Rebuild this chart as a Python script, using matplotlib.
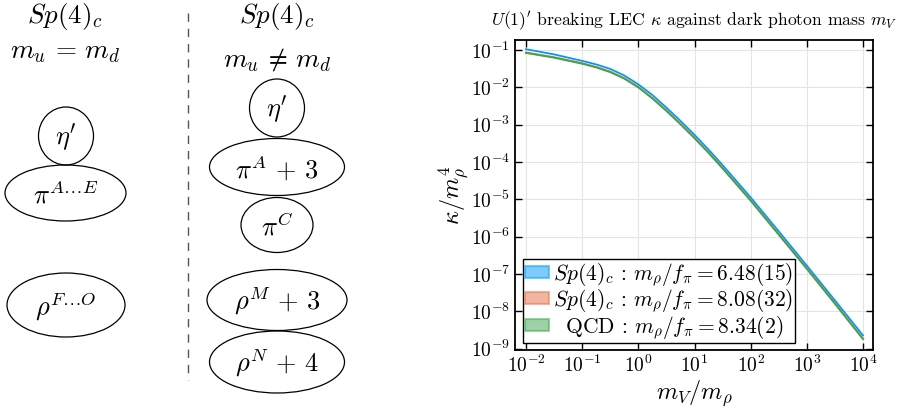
import numpy as np
import matplotlib
matplotlib.use("Agg")
import matplotlib.pyplot as plt
from matplotlib.patches import Ellipse, Patch

plt.rcParams["font.family"] = "serif"
plt.rcParams["font.serif"] = ["cmr10", "DejaVu Serif"]
plt.rcParams["mathtext.fontset"] = "cm"
plt.rcParams["axes.unicode_minus"] = False
plt.rcParams["axes.formatter.use_mathtext"] = True

# values (m_V/m_rho, kappa/m_rho^4)
m_ratio = [1e-2, 3.16e-2, 1e-1, 1.78e-1, 3.16e-1, 5.62e-1, 1.0, 1.78, 3.16, 5.62,
           10.0, 17.8, 31.6, 100.0, 316.0, 1000.0, 3162.0, 10000.0]
kappa_sp_648 = [1.05e-1, 7.6e-2, 5.1e-2, 4.1e-2, 3.1e-2, 2.07e-2, 1.2e-2, 6.2e-3,
                2.85e-3, 1.26e-3, 5.31e-4, 2.14e-4, 8.22e-5, 1.12e-5, 1.38e-6,
                1.66e-7, 1.95e-8, 2.24e-9]
kappa_sp_808 = [8.6e-2, 6.4e-2, 4.42e-2, 3.51e-2, 2.63e-2, 1.76e-2, 1.025e-2, 5.18e-3,
                2.4e-3, 1.06e-3, 4.47e-4, 1.8e-4, 6.91e-5, 9.44e-6, 1.16e-6,
                1.41e-7, 1.64e-8, 1.84e-9]
kappa_qcd = [8.3e-2, 6.2e-2, 4.27e-2, 3.39e-2, 2.54e-2, 1.7e-2, 9.9e-3, 5.0e-3,
             2.32e-3, 1.02e-3, 4.32e-4, 1.74e-4, 6.68e-5, 9.12e-6, 1.12e-6,
             1.36e-7, 1.58e-8, 1.78e-9]
labels = [r"$Sp(4)_c \,:\, m_\rho/f_\pi = 6.48(15)$",
          r"$Sp(4)_c \,:\, m_\rho/f_\pi = 8.08(32)$",
          r"$\ \ \mathrm{QCD} \,:\, m_\rho/f_\pi = 8.34(2)$"]
colors = ["#009afa", "#e36f47", "#3ea44e"]

# diagram: column headers and states
headers_left = [r"$Sp(4)_c$", r"$m_u \,=\, m_d$"]
headers_right = [r"$Sp(4)_c$", r"$m_u \,\neq\, m_d$"]
states_left = [r"$\eta'$", r"$\pi^{A\ldots E}$", r"$\rho^{F\ldots O}$"]
states_right = [r"$\eta'$", r"$\pi^A \,+\, 3$", r"$\pi^C$", r"$\rho^M \,+\, 3$",
                r"$\rho^N \,+\, 4$"]

fig = plt.figure(figsize=(9.01, 4.08), dpi=100)

# ---- left: multiplet diagram (pixel coordinates) ----
ax0 = fig.add_axes([0, 0, 360 / 901, 1])
ax0.set_xlim(0, 360)
ax0.set_ylim(408, 0)
ax0.axis("off")

left_geom = [(66, 136, 55, 58), (65.5, 193, 121, 56), (66, 305, 118, 64)]
right_geom = [(277, 108, 55, 58), (277, 167, 135, 57), (277, 225, 72, 55),
              (277, 300, 140, 61), (277, 362, 135, 62)]

for (cx, cy, w, h), lab in zip(left_geom + right_geom, states_left + states_right):
    ax0.add_patch(Ellipse((cx, cy), w, h, fill=False, ec="k", lw=0.9))
    ax0.text(cx, cy + 1, lab, ha="center", va="center", fontsize=19)

ax0.text(65, 17, headers_left[0], ha="center", va="center", fontsize=19.5)
ax0.text(65, 53, headers_left[1], ha="center", va="center", fontsize=19.5)
ax0.text(277, 17, headers_right[0], ha="center", va="center", fontsize=19.5)
ax0.text(277, 60, headers_right[1], ha="center", va="center", fontsize=19.5)
ax0.plot([187.5, 187.5], [13, 380], color="#555555", lw=1.0, ls=(0, (6, 5)))

# ---- right: kappa against m_V ----
ax = fig.add_axes([515 / 901, 58 / 408, 358 / 901, 310 / 408])
for y, c in zip([kappa_sp_648, kappa_sp_808, kappa_qcd], colors):
    ax.plot(m_ratio, y, color=c, lw=1.3)
ax.set_xscale("log")
ax.set_yscale("log")
ax.set_xlim(10 ** -2.196, 10 ** 4.178)
ax.set_ylim(10 ** -9.04, 10 ** -0.733)
ax.set_xticks([1e-2, 1e-1, 1e0, 1e1, 1e2, 1e3, 1e4])
ax.set_yticks([1e-9, 1e-8, 1e-7, 1e-6, 1e-5, 1e-4, 1e-3, 1e-2, 1e-1])
ax.minorticks_off()
ax.tick_params(direction="in", top=True, right=True, length=5, width=1,
               labelsize=14, pad=3.5)
ax.grid(True, color="#e4e4e4", lw=0.8)
ax.set_axisbelow(True)
for s in ax.spines.values():
    s.set_linewidth(1.3)

ax.set_title(r"$U(1)'$ breaking LEC $\kappa$ against dark photon mass $m_V$",
             fontsize=12.7, pad=10)
ax.set_xlabel(r"$m_V/m_\rho$", fontsize=17.5, labelpad=2)
ax.set_ylabel(r"$\kappa/m_\rho^4$", fontsize=17.5, labelpad=0)

handles = [Patch(facecolor=c, edgecolor=c, alpha=0.5, lw=1.5) for c in colors]
leg = ax.legend(handles, labels, loc="lower left", bbox_to_anchor=(0.0215, 0.0226),
                borderaxespad=0, fontsize=15.5, fancybox=False, framealpha=1,
                edgecolor="k", handlelength=1.1, handleheight=0.5,
                handletextpad=0.2, borderpad=0.1, labelspacing=0.0)
leg.get_frame().set_linewidth(1.0)

plt.savefig("out.png", dpi=100)
